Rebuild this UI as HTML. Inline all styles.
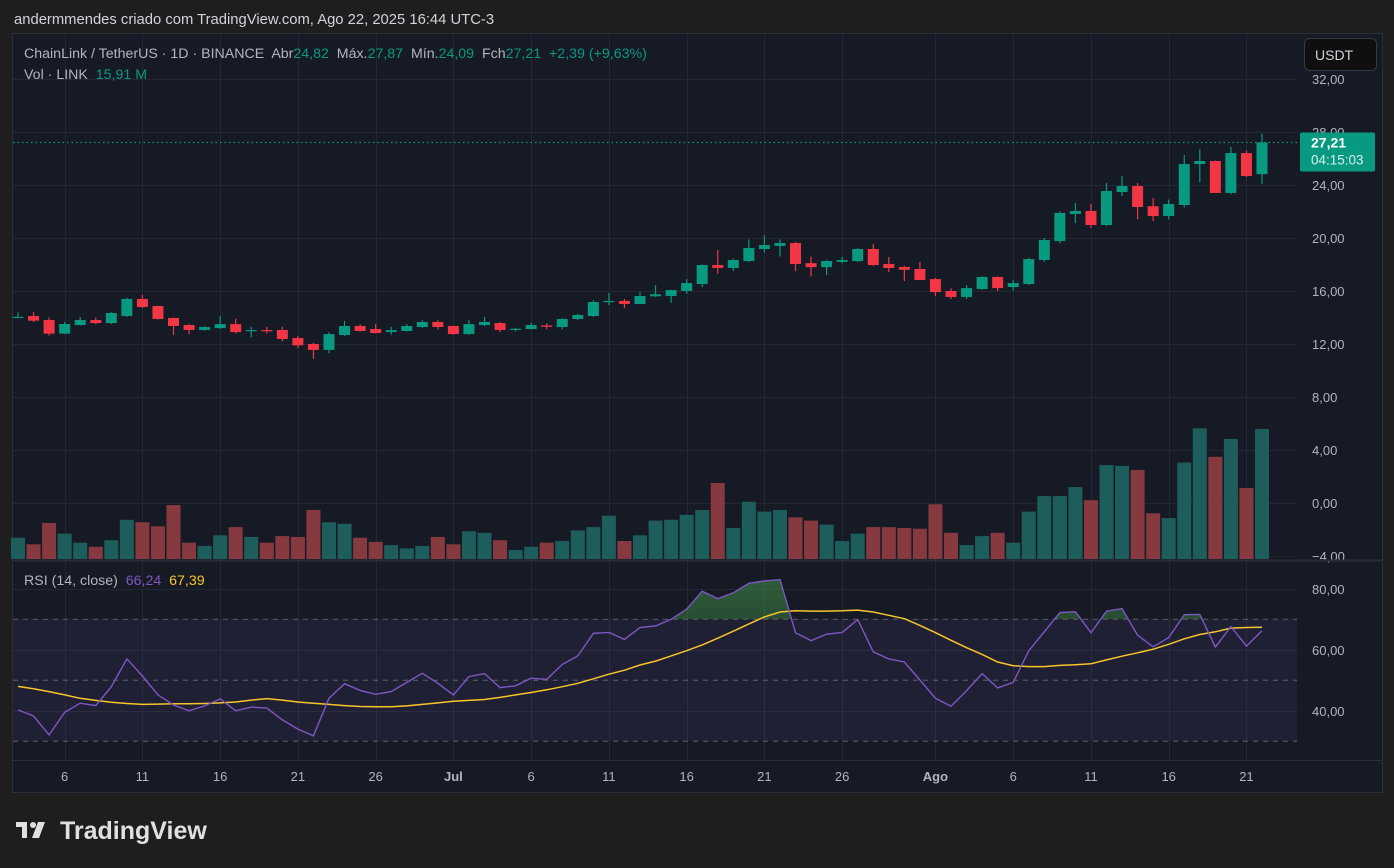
<!DOCTYPE html>
<html><head><meta charset="utf-8"><style>
html,body{margin:0;padding:0;background:#1e1e1e;width:1394px;height:868px;overflow:hidden}
svg{display:block;font-family:"Liberation Sans",sans-serif}
text{white-space:pre}
</style></head><body>
<svg id="c" width="1394" height="868" viewBox="0 0 1394 868">
<rect x="0" y="0" width="1394" height="868" fill="#1e1e1e"/>
<text x="14" y="24" fill="#d1d4dc" font-size="14.8">andermmendes criado com TradingView.com, Ago 22, 2025 16:44 UTC-3</text>
<rect x="12.5" y="33.5" width="1370" height="759" fill="#161a25" stroke="#2a2e39"/>
<g id="grid"></g>
<g id="vol"></g>
<g id="candles"></g>
<g id="rsi"></g>
<g id="axes"></g>
<line x1="12" y1="560.5" x2="1382" y2="560.5" stroke="#2a2e39" stroke-width="2"/>
<line x1="12" y1="760.5" x2="1382" y2="760.5" stroke="#2a2e39"/>
<text x="24" y="58" font-size="14.2" fill="#b2b5be" xml:space="preserve">ChainLink / TetherUS · 1D · BINANCE  Abr<tspan fill="#089981">24,82</tspan>  Máx.<tspan fill="#089981">27,87</tspan>  Mín.<tspan fill="#089981">24,09</tspan>  Fch<tspan fill="#089981">27,21  +2,39 (+9,63%)</tspan></text>
<text x="24" y="79" font-size="14.2" fill="#b2b5be" xml:space="preserve">Vol · LINK  <tspan fill="#089981">15,91 M</tspan></text>
<text x="24" y="585" font-size="14.2" fill="#b2b5be" xml:space="preserve">RSI (14, close)  <tspan fill="#7e57c2">66,24</tspan>  <tspan fill="#f7c52b">67,39</tspan></text>
<rect x="1304.5" y="38.5" width="72" height="32" rx="5" fill="#0f0f0f" stroke="#363a45"/>
<text x="1315" y="60" font-size="14" fill="#d1d4dc">USDT</text>
<g>
<rect x="16" y="822" width="11" height="5" fill="#e0e0e0"/>
<rect x="22" y="822" width="5" height="16" fill="#e0e0e0"/>
<circle cx="33" cy="825" r="3" fill="#e0e0e0"/>
<polygon points="38,822 45,822 39,838 32,838" fill="#e0e0e0"/>
<text x="60" y="839" font-size="25" font-weight="bold" fill="#e0e0e0">TradingView</text>
</g>
</svg>
<script>
const opens=[14.0,14.11,13.81,12.78,13.43,13.81,13.58,14.11,15.4,14.87,13.96,13.43,13.06,13.2,13.5,12.98,13.05,13.06,12.45,12.0,11.55,12.68,13.36,13.13,12.9,12.98,13.28,13.66,13.36,12.75,13.43,13.58,13.1,13.13,13.4,13.28,13.89,14.11,15.2,15.25,15.02,15.6,15.62,16.0,16.53,17.96,17.74,18.26,19.17,19.4,19.62,18.1,17.8,18.2,18.26,19.17,18.04,17.81,17.66,16.9,16.0,15.55,16.15,17.06,16.3,16.53,18.34,19.77,21.81,22.04,20.98,23.47,23.92,22.4,21.66,22.49,25.58,25.81,23.4,26.41,24.82];
const highs=[14.4,14.4,14.0,13.66,14.04,14.0,14.4,15.5,15.7,14.9,14.0,13.5,13.35,14.11,13.9,13.3,13.3,13.3,12.6,12.1,12.9,13.75,13.5,13.5,13.3,13.5,13.8,13.8,13.4,13.81,14.04,13.65,13.2,13.6,13.55,13.95,14.3,15.3,15.85,15.4,15.9,16.45,16.1,16.9,18.0,19.1,18.45,19.9,20.2,19.9,19.7,18.6,18.35,18.57,19.25,19.55,18.57,17.9,18.19,17.0,16.2,16.45,17.1,17.1,16.83,18.5,20.0,22.0,22.64,22.57,24.15,24.68,24.15,23.02,22.9,26.26,26.7,25.85,26.87,26.6,27.87];
const lows=[13.95,13.66,12.63,12.75,13.4,13.5,13.5,14.05,14.72,13.85,12.68,12.75,13.0,13.15,12.8,12.5,12.8,12.2,11.7,10.87,11.3,12.6,12.95,12.8,12.7,12.95,13.2,13.1,12.7,12.7,13.35,12.9,12.95,13.1,13.1,13.1,13.8,14.05,14.94,14.7,15.0,15.55,15.1,15.8,16.3,17.3,17.5,18.2,18.9,18.6,17.5,17.1,17.2,18.1,18.2,17.9,17.43,16.75,16.8,15.62,15.4,15.4,16.1,16.0,16.0,16.45,18.2,19.6,21.13,20.75,20.9,23.17,21.43,21.28,21.4,22.3,24.2,23.4,23.3,24.6,24.09];
const closes=[14.05,13.76,12.78,13.51,13.81,13.58,14.34,15.4,14.79,13.89,13.36,13.06,13.28,13.5,12.9,13.05,12.98,12.38,11.9,11.55,12.75,13.36,12.98,12.83,13.05,13.36,13.66,13.28,12.75,13.5,13.66,13.06,13.15,13.43,13.3,13.89,14.19,15.17,15.25,15.02,15.62,15.75,16.07,16.6,17.96,17.74,18.34,19.25,19.47,19.62,18.04,17.8,18.26,18.34,19.17,17.96,17.74,17.6,16.83,15.92,15.55,16.22,17.06,16.22,16.6,18.41,19.85,21.89,22.04,20.98,23.55,23.92,22.34,21.66,22.57,25.58,25.81,23.4,26.41,24.68,27.21];
const volumes=[2.6,1.8,4.4,3.1,2.0,1.5,2.3,4.8,4.5,4.0,6.6,2.0,1.6,2.9,3.9,2.7,2.0,2.8,2.7,6.0,4.5,4.3,2.6,2.1,1.7,1.3,1.6,2.7,1.8,3.4,3.2,2.3,1.1,1.5,2.0,2.2,3.5,3.9,5.3,2.2,2.9,4.7,4.8,5.4,6.0,9.3,3.8,7.0,5.8,6.0,5.1,4.7,4.2,2.2,3.1,3.9,3.9,3.8,3.7,6.7,3.2,1.7,2.8,3.2,2.0,5.8,7.7,7.7,8.8,7.2,11.5,11.4,10.9,5.6,5.0,11.8,16.0,12.5,14.7,8.7,15.91];
const rsiValues=[40.3,38.3,32.1,39.5,42.5,41.7,47.9,57,51.4,45.2,41.9,40,41.6,43.9,40,41.2,40.9,37,34,31.8,44.1,48.9,46.7,45.4,46.3,49.3,52.3,49,45.2,51.2,52.2,47.6,48.2,50.7,50.3,55.2,58,65.4,65.7,63.4,67.3,67.8,70,73.3,79.2,76.8,78.7,81.8,82.6,83,65.6,63,65.1,65.7,69.9,59.3,57,56,50.1,44.1,41.5,46.6,52.2,47.5,49.3,59.7,65.9,72.2,72.5,65.6,72.7,73.5,64.8,61,64,71.5,71.6,60.9,67.6,61.2,66.24];
const rsiMA=[48,47.2,46.3,45.2,44.1,43.4,42.8,42.4,42.1,42.2,42.3,42.3,42.4,42.6,42.9,43.5,44,43.5,42.9,42.5,42.1,41.7,41.4,41.3,41.3,41.6,42.1,42.6,43.1,43.4,43.7,44.4,45.2,46,46.9,47.9,49,50.5,52,53.3,55,56.3,58,59.7,61.6,63.8,66.1,68.5,70.8,72.4,72.8,72.7,72.7,72.8,73,72.4,71.3,70.2,68,65.6,63.1,60.7,58.5,56,54.8,54.5,54.5,54.9,55.1,55.4,56.7,57.9,59,60.2,61.8,63.6,65,65.9,67.1,67.3,67.39];
const priceTicks=[32,28,24,20,16,12,8,4,0,-4];
const priceTickLabels=["32,00","28,00","24,00","20,00","16,00","12,00","8,00","4,00","0,00","\u22124,00"];
const rsiTicks=[80,60,40];
const rsiTickLabels=["80,00","60,00","40,00"];
const dateTickIndex=[3,8,13,18,23,28,33,38,43,48,53,59,64,69,74,79];
const dateTickLabels=["6","11","16","21","26","Jul","6","11","16","21","26","Ago","6","11","16","21"];
const lastPrice=27.21;

const NS="http://www.w3.org/2000/svg";
const X=i=>18+15.55*i;
const YP=p=>503-13.25*p;
const YV=v=>559-v*8.17;
const YR=r=>619.3+(70-r)*3.05;
const UP="#089981",DN="#f23645";
function mk(tag,parent,attrs){const e=document.createElementNS(NS,tag);for(const k in attrs)e.setAttribute(k,attrs[k]);parent.appendChild(e);return e;}
const grid=document.getElementById('grid'),vol=document.getElementById('vol'),cg=document.getElementById('candles'),rg=document.getElementById('rsi'),ax=document.getElementById('axes');

priceTicks.forEach((p,k)=>{
  const y=Math.round(YP(p))+0.5;
  const l=mk('line',grid,{x1:13,x2:1297,y1:y,y2:y,stroke:'#232733'});
  
  
  const t=mk('text',ax,{x:1312,y:YP(p)+5,'font-size':13,fill:'#b2b5be'});
  t.textContent=priceTickLabels[k];
  
  
});
dateTickIndex.forEach((i,k)=>{
  const x=Math.round(X(i))+0.5;
  const l=mk('line',grid,{x1:x,x2:x,y1:34,y2:760,stroke:'#232733'});
  
  
  const bold=isNaN(+dateTickLabels[k]);
  const t=mk('text',ax,{x:X(i),y:781,'font-size':13,fill:'#b2b5be','text-anchor':'middle','font-weight':bold?'bold':'normal'});
  t.textContent=dateTickLabels[k];
  
  
});
volumes.forEach((v,i)=>{
  const up=closes[i]>=opens[i];
  const y=YV(v);
  const r=mk('rect',vol,{x:X(i)-7,y:y,width:14,height:559-y,fill:up?'#1d5e5c':'#863a40'});
  
  
});
opens.forEach((o,i)=>{
  const c=closes[i],up=c>=o,col=up?UP:DN,x=X(i);
  const w=mk('line',cg,{x1:x,x2:x,y1:YP(highs[i]),y2:YP(lows[i]),stroke:col,'stroke-width':1.2});
  
  
  const top=YP(Math.max(o,c)),bot=YP(Math.min(o,c));
  const b=mk('rect',cg,{x:x-5.5,y:top,width:11,height:Math.max(1.2,bot-top),fill:col});
  
  
});
const lpY=YP(lastPrice);
const lp=mk('line',ax,{x1:13,x2:1297,y1:lpY,y2:lpY,stroke:UP,'stroke-dasharray':'1.5 3','stroke-width':1.2});


const lb=mk('rect',ax,{x:1300,y:lpY-10,width:75,height:39,rx:2,fill:UP});


const lt=mk('text',ax,{x:1311,y:lpY+5,'font-size':14,'font-weight':'bold',fill:'#ffffff'});
lt.textContent='27,21';


const lc=mk('text',ax,{x:1311,y:lpY+22,'font-size':13.5,fill:'#d8f0ec'});
lc.textContent='04:15:03';


const defs=mk('defs',rg,{});
defs.innerHTML='<linearGradient id="og" x1="0" y1="0" x2="0" y2="1"><stop offset="0" stop-color="#4caf50" stop-opacity="0.45"/><stop offset="1" stop-color="#4caf50" stop-opacity="0.02"/></linearGradient><clipPath id="above"><rect x="12" y="562" width="1285" height="'+(YR(70)-562)+'"/></clipPath>';
const band=mk('rect',rg,{x:13,y:YR(70),width:1284,height:YR(30)-YR(70),fill:'rgba(126,87,194,0.1)'});


[70,50,30].forEach(lv=>{
  const l=mk('line',rg,{x1:13,x2:1297,y1:YR(lv),y2:YR(lv),stroke:'#787b86','stroke-dasharray':'5 5','stroke-opacity':0.7});
  
  
});
rsiTicks.forEach((r,k)=>{
  const y=Math.round(YR(r))+0.5;
  const l=mk('line',grid,{x1:13,x2:1297,y1:y,y2:y,stroke:'#232733'});
  
  
  const t=mk('text',ax,{x:1312,y:YR(r)+5,'font-size':13,fill:'#b2b5be'});
  t.textContent=rsiTickLabels[k];
  
  
});
const pts=rsiValues.map((r,i)=>X(i).toFixed(1)+','+YR(r).toFixed(1));
const fillPts=pts.join(' ')+' '+X(rsiValues.length-1)+','+YR(70)+' '+X(0)+','+YR(70);
const ob=mk('polygon',rg,{points:fillPts,fill:'url(#og)','clip-path':'url(#above)'});


const ma=mk('polyline',rg,{points:rsiMA.map((r,i)=>X(i).toFixed(1)+','+YR(r).toFixed(1)).join(' '),fill:'none',stroke:'#f7c52b','stroke-width':1.5});


const rl=mk('polyline',rg,{points:pts.join(' '),fill:'none',stroke:'#7e57c2','stroke-width':1.4});


</script>
</body></html>
